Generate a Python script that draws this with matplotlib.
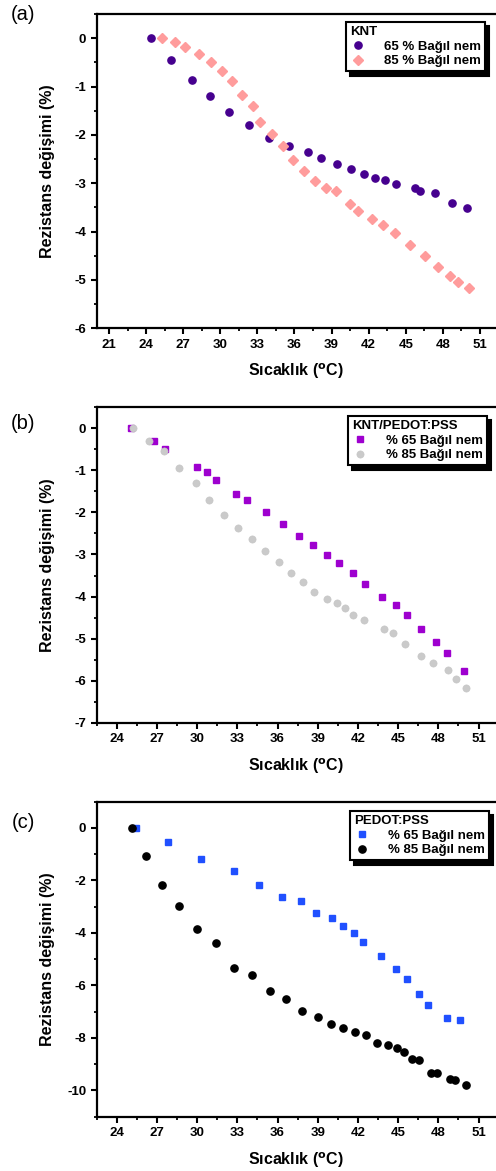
import matplotlib
matplotlib.use("Agg")
import matplotlib.pyplot as plt
from matplotlib.ticker import MultipleLocator

plt.rcParams['font.family'] = ['Liberation Sans', 'DejaVu Sans']
plt.rcParams['axes.unicode_minus'] = False

# ---------------- data ----------------
# (a) KNT
a65_x = [24.43, 26.05, 27.67, 29.17, 30.74, 32.30, 33.92, 35.56, 37.10, 38.18, 39.45,
         40.61, 41.66, 42.50, 43.36, 44.25, 45.73, 46.19, 47.33, 48.73, 49.99]
a65_y = [0.0, -0.46, -0.86, -1.19, -1.53, -1.79, -2.06, -2.24, -2.35, -2.48, -2.60,
         -2.70, -2.81, -2.89, -2.94, -3.01, -3.10, -3.16, -3.20, -3.40, -3.52]
a85_x = [25.29, 26.37, 27.18, 28.28, 29.25, 30.14, 30.95, 31.79, 32.65, 33.22, 34.16,
         35.03, 35.89, 36.75, 37.64, 38.56, 39.34, 40.45, 41.10, 42.28, 43.14, 44.17,
         45.38, 46.57, 47.57, 48.56, 49.24, 50.10]
a85_y = [0.0, -0.07, -0.18, -0.33, -0.49, -0.67, -0.89, -1.17, -1.40, -1.73, -1.99,
         -2.23, -2.51, -2.74, -2.95, -3.10, -3.17, -3.42, -3.58, -3.73, -3.87, -4.02,
         -4.28, -4.51, -4.73, -4.92, -5.05, -5.17]

# (b) KNT/PEDOT:PSS
b65_x = [25.05, 26.79, 27.63, 29.97, 30.72, 31.44, 32.93, 33.68, 35.10, 36.40, 37.59,
         38.66, 39.71, 40.62, 41.60, 42.54, 43.81, 44.81, 45.66, 46.67, 47.80, 48.65, 49.94]
b65_y = [0.0, -0.29, -0.48, -0.92, -1.05, -1.22, -1.55, -1.70, -1.99, -2.28, -2.55,
         -2.78, -3.02, -3.20, -3.43, -3.69, -4.00, -4.20, -4.45, -4.77, -5.09, -5.34, -5.77]
b85_x = [25.24, 26.41, 27.51, 28.63, 29.94, 30.89, 31.99, 33.01, 34.08, 35.08, 36.10,
         37.02, 37.86, 38.71, 39.66, 40.43, 41.05, 41.65, 42.47, 43.94, 44.58, 45.54,
         46.71, 47.61, 48.73, 49.30, 50.04]
b85_y = [0.0, -0.29, -0.55, -0.95, -1.31, -1.70, -2.07, -2.36, -2.64, -2.92, -3.17,
         -3.43, -3.66, -3.90, -4.07, -4.16, -4.27, -4.45, -4.56, -4.78, -4.86, -5.14,
         -5.41, -5.57, -5.75, -5.97, -6.17]

# (c) PEDOT:PSS
c65_x = [25.44, 27.81, 30.32, 32.71, 34.61, 36.33, 37.72, 38.89, 40.06, 40.88, 41.73,
         42.37, 43.74, 44.81, 45.68, 46.56, 47.20, 48.62, 49.64]
c65_y = [0.0, -0.55, -1.20, -1.64, -2.17, -2.63, -2.77, -3.23, -3.42, -3.72, -4.00,
         -4.33, -4.88, -5.39, -5.76, -6.34, -6.76, -7.25, -7.33]
c85_x = [25.14, 26.19, 27.40, 28.65, 29.99, 31.39, 32.71, 34.10, 35.40, 36.60, 37.84,
         39.02, 40.01, 40.88, 41.78, 42.63, 43.43, 44.22, 44.92, 45.47, 46.02, 46.59,
         47.47, 47.89, 48.83, 49.21, 50.06]
c85_y = [0.0, -1.06, -2.17, -2.97, -3.85, -4.40, -5.34, -5.61, -6.21, -6.52, -6.99,
         -7.19, -7.47, -7.61, -7.77, -7.87, -8.20, -8.28, -8.38, -8.55, -8.79, -8.84,
         -9.35, -9.35, -9.58, -9.59, -9.80]

xlabel = 'Sıcaklık ($\\mathbf{^{o}}$C)'
ylabel = 'Rezistans değişimi (%)'

W, H = 496, 1171
fig = plt.figure(figsize=(W / 100, H / 100), dpi=100)


def px_axes(left, top, right, bottom):
    return fig.add_axes([left / W, 1 - bottom / H, (right - left) / W, (bottom - top) / H])


def style(ax, xlim, ylim, xmaj, ymaj, lab_y):
    ax.set_xlim(*xlim)
    ax.set_ylim(*ylim)
    ax.xaxis.set_major_locator(MultipleLocator(xmaj))
    ax.xaxis.set_minor_locator(MultipleLocator(xmaj / 2))
    ax.yaxis.set_major_locator(MultipleLocator(ymaj))
    ax.yaxis.set_minor_locator(MultipleLocator(ymaj / 2))
    for s in ['left', 'top', 'bottom']:
        ax.spines[s].set_linewidth(1.6)
    ax.spines['right'].set_visible(False)
    ax.tick_params(which='major', direction='out', length=4.5, width=1.5, labelsize=9.5, pad=3)
    ax.tick_params(which='minor', direction='out', length=2.5, width=1.3)
    ax.tick_params(axis='x', which='both', top=False)
    for lbl in ax.get_xticklabels() + ax.get_yticklabels():
        lbl.set_fontweight('bold')
    ax.set_xlabel(xlabel, fontsize=11.5, fontweight='bold')
    ax.set_ylabel(ylabel, fontsize=11.5, fontweight='bold')
    ax.xaxis.set_label_coords(0.5, lab_y)
    ax.xaxis.label.set_va('center')
    ax.yaxis.set_label_coords(-0.122, 0.5)
    ax.yaxis.label.set_va('center')


def legend(ax, title, anchor_px):
    lg = ax.legend(title=title, loc='upper right',
                   bbox_to_anchor=(anchor_px[0] / W, 1 - anchor_px[1] / H),
                   bbox_transform=fig.transFigure,
                   frameon=True, fancybox=False, framealpha=1, edgecolor='black',
                   shadow={'ox': 3, 'oy': -3, 'facecolor': 'black', 'edgecolor': 'black', 'alpha': 1},
                   prop={'weight': 'bold', 'size': 9.5},
                   title_fontproperties={'weight': 'bold', 'size': 9.5},
                   handlelength=1.2, handletextpad=1.4, borderpad=0.3,
                   labelspacing=0.2, borderaxespad=0, alignment='left')
    lg.get_frame().set_linewidth(1.5)
    return lg


# (a)
ax1 = px_axes(96.7, 14, 496, 328.3)
ax1.plot(a65_x, a65_y, 'o', color='#46008F', ms=5.2, mec='#46008F', label='65 % Bağıl nem')
ax1.plot(a85_x, a85_y, 'D', color='#FF9C9C', ms=5.0, mec='#FF9C9C', label='85 % Bağıl nem')
style(ax1, (20, 52.3), (-6, 0.5), 3, 1, -0.138)
legend(ax1, 'KNT', (485, 21.7))

# (b)
ax2 = px_axes(96.7, 407.3, 496, 722.7)
ax2.plot(b65_x, b65_y, 's', color='#9E00CF', ms=4.6, mec='#9E00CF', label='% 65 Bağıl nem')
ax2.plot(b85_x, b85_y, 'o', color='#CACACA', ms=5.2, mec='#C4C4C4', mew=0.4, label='% 85 Bağıl nem')
style(ax2, (22.5, 52.3), (-7, 0.5), 3, 1, -0.1395)
legend(ax2, 'KNT/PEDOT:PSS', (487, 415.7))

# (c)
ax3 = px_axes(96.7, 801.7, 496, 1116.7)
ax3.plot(c65_x, c65_y, 's', color='#2050FF', ms=4.6, mec='#2050FF', label='% 65 Bağıl nem')
ax3.plot(c85_x, c85_y, 'o', color='black', ms=5.2, label='% 85 Bağıl nem')
style(ax3, (22.5, 52.3), (-11, 1), 3, 2, -0.1375)
legend(ax3, 'PEDOT:PSS', (489, 810.7))

for lab, y in [('(a)', 15), ('(b)', 423), ('(c)', 822)]:
    fig.text(23 / W, 1 - y / H, lab, fontsize=14.5, ha='center', va='center')

fig.savefig('out.png', dpi=100)
